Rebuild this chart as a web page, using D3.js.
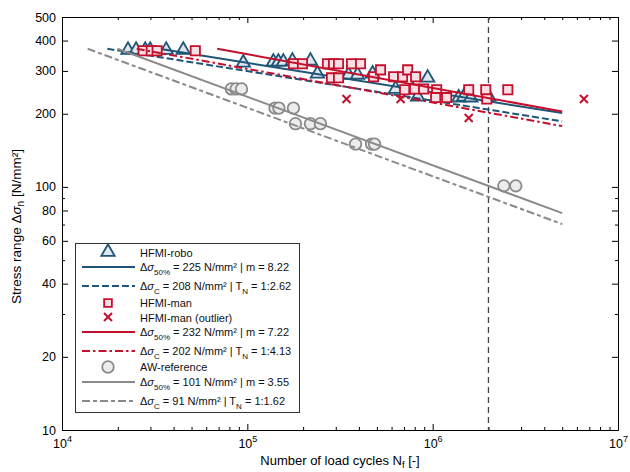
<!DOCTYPE html>
<html>
<head>
<meta charset="utf-8">
<script src="https://cdn.jsdelivr.net/npm/d3@7"></script>
<style>
  html, body { margin: 0; padding: 0; background: #fff; }
  svg { display: block; font-family: "Liberation Sans", Arial, sans-serif; }
</style>
</head>
<body>
<svg id="chart" width="630" height="472"></svg>
<script>
// ---- test results: cycles to failure N and nominal stress range (N/mm²) ----
const roboN = [22700, 25100, 28100, 29900, 36500, 45100, 95100, 138200, 147100, 156500, 175100, 219000,
               238900, 351600, 393200, 474000, 631000, 780000, 829700, 939700, 1382000, 1471000, 1605000, 2008000];
const roboS = [366, 366, 366, 366, 366, 366, 324, 327, 327, 327, 330, 330,
               292, 289, 289, 292, 253, 251, 235, 281, 233, 235, 233, 235];

const manN = [27400, 30300, 32600, 52400, 177300, 198300, 270600, 291700, 310500, 365000, 408100, 284500,
              310500, 479800, 523500, 615400, 688100, 732800, 809200, 705700, 799200, 894000, 1051000, 1038000,
              1190000, 1565000, 1934000, 1959000, 2544000];
const manS = [363, 363, 363, 363, 321, 321, 321, 321, 321, 321, 321, 281,
              281, 284, 303, 284, 284, 303, 284, 251, 253, 253, 251, 233,
              233, 251, 251, 230, 251];

const outlierN = [342800, 671400, 1565000, 6549000];
const outlierS = [230, 230, 192, 230];

const awN = [82000, 87000, 93000, 141000, 148000, 177300, 181800, 219000, 248000, 383500, 468000, 485900, 2420000, 2809000];
const awS = [253, 253, 253, 211, 211, 211, 182, 182, 182, 150, 150, 150, 101, 101];

// ---- S-N curve parameters (50 % and characteristic level) ----
const fitS50 = [225, 232, 101];
const fitM   = [8.22, 7.22, 3.55];
const fitSC  = [208, 202, 91];
const fitTN  = ["1:2.62", "1:4.13", "1:1.62"];
const nRef = 2e6;      // reference number of cycles
const nEnd = 5e6;      // curves are drawn up to this N
const sTop = 370;      // curves begin at this stress level

// ---- axis ticks ----
const xMajor = [1e4, 1e5, 1e6, 1e7];
const xMinor = [2,3,4,5,6,7,8,9].flatMap(k => [1e4, 1e5, 1e6].map(d => k * d));
const yLabelled = [10, 20, 40, 60, 80, 100, 200, 300, 400, 500];
const yMinor = [30, 50, 70, 90];

const colBlue = "#1f5576", colRed = "#c40f2d", colGray = "#8a8a8a";
const fillBlue = "#dfe6ec", fillRed = "#f7dfe4", fillGray = "#ececec";

const svg = d3.select("#chart");
const L = 62, R = 618, T = 17, B = 430;
const x = d3.scaleLog().domain([1e4, 1e7]).range([L, R]);
const y = d3.scaleLog().domain([10, 500]).range([B, T]);

// ---- axes with inward ticks on all four sides ----
function styleAxis(g) {
  g.selectAll("path").attr("stroke", "#000").attr("stroke-width", 1);
  g.selectAll("line").attr("stroke", "#000").attr("stroke-width", 1);
  g.selectAll("text").attr("font-family", "Liberation Sans, Arial, sans-serif").attr("fill", "#000");
}
const gx = svg.append("g").attr("transform", `translate(0,${B})`)
  .call(d3.axisBottom(x).tickValues(xMajor).tickSizeInner(-6).tickSizeOuter(0).tickPadding(6).tickFormat(() => ""));
gx.call(styleAxis);
gx.selectAll(".tick text").attr("font-size", 12.5).attr("dy", "0.95em").each(function(d) {
  const t = d3.select(this);
  t.text("10");
  t.append("tspan").attr("font-size", 9).attr("dy", "-0.6em").text(Math.round(Math.log10(d)));
});
svg.append("g").attr("transform", `translate(0,${B})`)
  .call(d3.axisBottom(x).tickValues(xMinor).tickSizeInner(-3).tickSizeOuter(0).tickFormat(""))
  .call(styleAxis).select("path").remove();
svg.append("g").attr("transform", `translate(0,${T})`)
  .call(d3.axisTop(x).tickValues(xMajor).tickSizeInner(-6).tickSizeOuter(0).tickFormat(""))
  .call(styleAxis);
svg.append("g").attr("transform", `translate(0,${T})`)
  .call(d3.axisTop(x).tickValues(xMinor).tickSizeInner(-3).tickSizeOuter(0).tickFormat(""))
  .call(styleAxis).select("path").remove();

const gy = svg.append("g").attr("transform", `translate(${L},0)`)
  .call(d3.axisLeft(y).tickValues(yLabelled).tickSizeInner(-6).tickSizeOuter(0).tickPadding(6).tickFormat(d3.format("d")));
gy.call(styleAxis);
gy.selectAll(".tick text").attr("font-size", 12.5);
svg.append("g").attr("transform", `translate(${L},0)`)
  .call(d3.axisLeft(y).tickValues(yMinor).tickSizeInner(-3).tickSizeOuter(0).tickFormat(""))
  .call(styleAxis).select("path").remove();
svg.append("g").attr("transform", `translate(${R},0)`)
  .call(d3.axisRight(y).tickValues(yLabelled).tickSizeInner(-6).tickSizeOuter(0).tickFormat(""))
  .call(styleAxis);
svg.append("g").attr("transform", `translate(${R},0)`)
  .call(d3.axisRight(y).tickValues(yMinor).tickSizeInner(-3).tickSizeOuter(0).tickFormat(""))
  .call(styleAxis).select("path").remove();

// ---- axis titles ----
const xt = svg.append("text").attr("x", (L + R) / 2).attr("y", 465).attr("text-anchor", "middle")
  .attr("font-size", 13).attr("fill", "#000");
xt.append("tspan").text("Number of load cycles N");
xt.append("tspan").attr("font-size", 9.5).attr("dy", 3).text("f");
xt.append("tspan").attr("dy", -3).text(" [-]");

const yt = svg.append("text").attr("transform", `translate(21,${(T + B) / 2 + 3}) rotate(-90)`)
  .attr("text-anchor", "middle").attr("font-size", 13.5).attr("fill", "#000");
yt.append("tspan").text("Stress range Δ");
yt.append("tspan").attr("font-style", "italic").text("σ");
yt.append("tspan").attr("font-size", 10).attr("dy", 3).text("n");
yt.append("tspan").attr("dy", -3).text(" [N/mm²]");

// ---- reference line at N = 2·10^6 ----
svg.append("line").attr("x1", x(nRef)).attr("x2", x(nRef)).attr("y1", T).attr("y2", B)
  .attr("stroke", "#444").attr("stroke-width", 1.3).attr("stroke-dasharray", "6,4");

const plot = svg.append("g");

// ---- helpers ----
function curve(s, m) {
  const n0 = nRef * Math.pow(s / sTop, m);
  return [n0, nEnd].map(n => [n, s * Math.pow(nRef / n, 1 / m)]);
}
const lineGen = d3.line().x(d => x(d[0])).y(d => y(d[1]));
function drawCurve(g, s, m, color, dash) {
  g.append("path").attr("d", lineGen(curve(s, m))).attr("fill", "none")
    .attr("stroke", color).attr("stroke-width", 2).attr("stroke-dasharray", dash || null);
}
function drawSymbols(g, ns, ss, type, size, stroke, fill) {
  g.selectAll(null).data(ns.map((n, i) => [n, ss[i]])).join("path")
    .attr("transform", d => `translate(${x(d[0])},${y(d[1])})`)
    .attr("d", d3.symbol().type(type).size(size))
    .attr("fill", fill).attr("stroke", stroke).attr("stroke-width", 1.8);
}
function drawCross(g, ns, ss, color) {
  g.selectAll(null).data(ns.map((n, i) => [n, ss[i]])).join("path")
    .attr("transform", d => `translate(${x(d[0])},${y(d[1])})`)
    .attr("d", "M-4,-4L4,4M-4,4L4,-4")
    .attr("fill", "none").attr("stroke", color).attr("stroke-width", 2);
}

const dashRobo = "7,3", dashMan = "8,3,2.5,3", dashAW = "8,3,4,3";

// HFMI-robo
drawSymbols(plot, roboN, roboS, d3.symbolTriangle, 78, colBlue, fillBlue);
drawCurve(plot, fitS50[0], fitM[0], colBlue);
drawCurve(plot, fitSC[0], fitM[0], colBlue, dashRobo);
// HFMI-man
drawSymbols(plot, manN, manS, d3.symbolSquare, 85, colRed, fillRed);
drawCross(plot, outlierN, outlierS, colRed);
drawCurve(plot, fitS50[1], fitM[1], colRed);
drawCurve(plot, fitSC[1], fitM[1], colRed, dashMan);
// AW reference
drawSymbols(plot, awN, awS, d3.symbolCircle, 105, colGray, fillGray);
drawCurve(plot, fitS50[2], fitM[2], colGray);
drawCurve(plot, fitSC[2], fitM[2], colGray, dashAW);

// ---- legend ----
const leg = svg.append("g");
leg.append("rect").attr("x", 75.5).attr("y", 243.5).attr("width", 224).attr("height", 169)
  .attr("fill", "#fff").attr("stroke", "#333").attr("stroke-width", 1);

const lx0 = 82, lx1 = 135, sx = 108, tx = 140;
function legText(yy, parts) {
  const t = leg.append("text").attr("x", tx).attr("y", yy).attr("dy", "0.35em")
    .attr("font-size", 11).attr("fill", "#111");
  parts.forEach(p => {
    const s = t.append("tspan").text(p.t);
    if (p.i) s.attr("font-style", "italic");
    if (p.sub) s.attr("font-size", 8).attr("dy", 4);
    if (p.up) s.attr("dy", -4);
  });
}
function legLine(yy, color, dash) {
  leg.append("line").attr("x1", lx0).attr("x2", lx1).attr("y1", yy).attr("y2", yy)
    .attr("stroke", color).attr("stroke-width", 2).attr("stroke-dasharray", dash || null);
}
function legSym(yy, type, size, stroke, fill) {
  leg.append("path").attr("transform", `translate(${sx},${yy})`)
    .attr("d", d3.symbol().type(type).size(size)).attr("fill", fill).attr("stroke", stroke).attr("stroke-width", 1.8);
}
function fitRows(k, y50, yC, color, dash) {
  legLine(y50, color);
  legText(y50, [{t: "Δ"}, {t: "σ", i: true}, {t: "50%", sub: true}, {t: ` = ${fitS50[k]} N/mm² | m = ${fitM[k].toFixed(2)}`, up: true}]);
  legLine(yC, color, dash);
  legText(yC, [{t: "Δ"}, {t: "σ", i: true}, {t: "C", sub: true}, {t: ` = ${fitSC[k]} N/mm² | T`, up: true}, {t: "N", sub: true}, {t: ` = ${fitTN[k]}`, up: true}]);
}

legSym(252, d3.symbolTriangle, 78, colBlue, fillBlue);
legText(253, [{t: "HFMI-robo"}]);
fitRows(0, 267, 286, colBlue, dashRobo);

legSym(303, d3.symbolSquare, 60, colRed, fillRed);
legText(303, [{t: "HFMI-man"}]);
leg.append("path").attr("transform", `translate(${sx},317)`).attr("d", "M-4,-4L4,4M-4,4L4,-4")
  .attr("fill", "none").attr("stroke", colRed).attr("stroke-width", 2);
legText(318, [{t: "HFMI-man (outlier)"}]);
fitRows(1, 332, 351, colRed, dashMan);

legSym(367, d3.symbolCircle, 105, colGray, fillGray);
legText(367, [{t: "AW-reference"}]);
fitRows(2, 382, 401, colGray, dashAW);
</script>
</body>
</html>
